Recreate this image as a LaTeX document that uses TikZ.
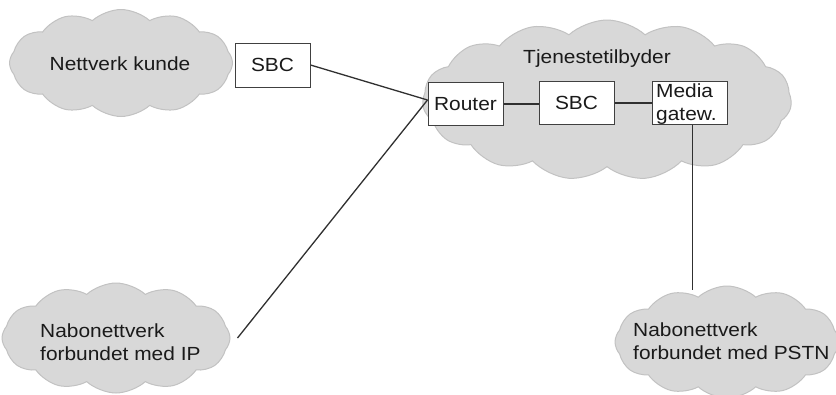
\documentclass[tikz,border=0pt]{standalone}
\usepackage{fontspec}
\setmainfont{Liberation Sans}[FakeStretch=1.1]
\usetikzlibrary{shapes.symbols,calc}
\definecolor{cloudfill}{HTML}{D8D8D8}
\definecolor{cloudedge}{HTML}{C2C2C2}
\definecolor{boxedge}{HTML}{404040}
\definecolor{linecol}{HTML}{303030}
\definecolor{textcol}{HTML}{1A1A1A}
\tikzset{
  netcloud/.style={cloud, cloud puffs=12, cloud puff arc=85, cloud ignores aspect, fill=cloudfill, draw=cloudedge, line width=1pt, inner sep=0pt},
  devbox/.style={draw=boxedge, fill=white, line width=1pt, inner sep=0pt, minimum width=75, minimum height=43},
  lbl/.style={font=\fontsize{19}{23}\selectfont, text=textcol, inner sep=0pt},
  link/.style={draw=linecol, line width=1.3pt},
}
\begin{document}
\begin{tikzpicture}[x=1pt, y=-1pt]
\useasboundingbox (0,0) rectangle (836,394);
% clouds
\node[netcloud, minimum width=223, minimum height=107] (kundecloud) at (121,63) {};
\node[netcloud, cloud puffs=15, minimum width=369, minimum height=160] (tjcloud) at (607,100) {};
\node[netcloud, minimum width=228, minimum height=110] (ipcloud) at (116,338) {};
\node[netcloud, minimum width=224, minimum height=112] (pstncloud) at (727,342) {};
% cloud labels
\node[lbl, anchor=base] (kundelbl) at (120,70) {Nettverk kunde};
\node[lbl, anchor=base] (tjlbl) at (597,63) {Tjenestetilbyder};
\node[lbl, anchor=north west, align=left] (iplbl) at (40,324) {Nabonettverk\\forbundet med IP};
\node[lbl, anchor=north west, align=left] (pstnlbl) at (633,323) {Nabonettverk\\forbundet med PSTN};
% devices
\node[devbox, minimum height=44] (sbc1) at (272.5,65) {};
\node[devbox] (router) at (465.5,104) {};
\node[devbox] (sbc2) at (576.5,103) {};
\node[devbox] (media) at (689.5,103) {};
% connectors
\coordinate (rin) at ($(router.west)+(0,-4)$);
\coordinate (ipend) at ($(ipcloud.east)+(7,0)$);
\coordinate (mgout) at ($(media.south)+(3,0)$);
\draw[link] (sbc1.east) -- (rin);
\draw[link] (ipend) -- (rin);
\draw[link] (router.east) -- (router.east -| sbc2.west);
\draw[link] (sbc2.east) -- (media.west);
\draw[link] (mgout) -- ($(mgout |- pstncloud.north)+(0,4)$);
% redraw boxes on top
\node[devbox, minimum height=44] at (sbc1) {};
\node[devbox] at (router) {};
\node[devbox] at (sbc2) {};
\node[devbox] at (media) {};
% device labels
\node[lbl] (sbc1lbl) at (sbc1) {SBC};
\node[lbl] (routerlbl) at (router) {Router};
\node[lbl] (sbc2lbl) at (sbc2) {SBC};
\node[lbl, anchor=north west, align=left] (medialbl) at (656,84) {Media\\gatew.};
\end{tikzpicture}
\end{document}
